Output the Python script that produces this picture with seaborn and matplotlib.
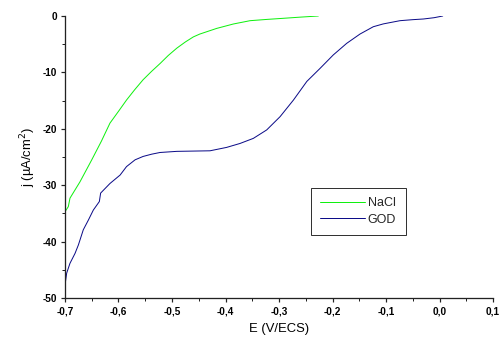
import numpy as np
import pandas as pd
import matplotlib
matplotlib.use("Agg")
import matplotlib.pyplot as plt
import matplotlib.ticker as mticker
import seaborn as sns

# NaCl curve (E in V/ECS, j in uA/cm2)
nacl_e = [-0.700, -0.6938, -0.6907, -0.672, -0.650, -0.632, -0.616, -0.600, -0.585,
          -0.570, -0.554, -0.538, -0.522, -0.507, -0.491, -0.475, -0.460, -0.448,
          -0.4165, -0.3854, -0.354, -0.322, -0.292, -0.260, -0.2265]
nacl_j = [-34.7, -33.8, -32.3, -29.4, -25.5, -22.2, -19.0, -16.9, -14.9,
          -13.1, -11.3, -9.8, -8.4, -7.0, -5.7, -4.6, -3.7, -3.2,
          -2.2, -1.42, -0.83, -0.60, -0.41, -0.20, 0.0]

# GOD curve
god_e = [-0.700, -0.6969, -0.6907, -0.6813, -0.675, -0.6658, -0.6564, -0.647,
         -0.6358, -0.6334, -0.616, -0.597, -0.585, -0.569, -0.554, -0.538,
         -0.5224, -0.491, -0.460, -0.429, -0.398, -0.3729, -0.348, -0.323,
         -0.298, -0.273, -0.248, -0.2234, -0.1985, -0.1735, -0.1486, -0.1237,
         -0.105, -0.0738, -0.050, -0.030, -0.010, 0.006]
god_j = [-47.7, -45.6, -43.85, -42.1, -40.6, -37.9, -36.2, -34.4,
         -32.9, -31.4, -29.7, -28.2, -26.7, -25.5, -24.9, -24.5,
         -24.2, -24.0, -23.95, -23.9, -23.3, -22.6, -21.7, -20.2,
         -17.85, -14.9, -11.6, -9.3, -6.9, -4.85, -3.2, -1.9,
         -1.4, -0.83, -0.65, -0.53, -0.3, 0.0]

df = pd.concat([
    pd.DataFrame({"E": nacl_e, "j": nacl_j, "serie": "NaCl"}),
    pd.DataFrame({"E": god_e, "j": god_j, "serie": "GOD"}),
])

sns.set_style("ticks")
plt.rcParams['font.family'] = ['Liberation Sans', 'DejaVu Sans']

fig = plt.figure(figsize=(7, 343 / 72), dpi=72)
ax = fig.add_axes([65 / 504, 1 - 298 / 343, 428 / 504, 282 / 343])

sns.lineplot(data=df, x="E", y="j", hue="serie", sort=False, estimator=None,
             palette={"NaCl": "#10f010", "GOD": "#0c0c88"}, linewidth=1.0, ax=ax)

ax.set_xlim(-0.7, 0.1)
ax.set_ylim(-50, 0)
ax.xaxis.set_major_locator(mticker.MultipleLocator(0.1))
ax.xaxis.set_minor_locator(mticker.MultipleLocator(0.05))
ax.yaxis.set_major_locator(mticker.MultipleLocator(10))
ax.yaxis.set_minor_locator(mticker.MultipleLocator(5))
ax.xaxis.set_major_formatter(mticker.FuncFormatter(lambda v, p: f"{v:.1f}".replace(".", ",").replace("-0,0", "0,0")))
ax.yaxis.set_major_formatter(mticker.FuncFormatter(lambda v, p: f"{v:.0f}"))

for s in ["top", "right"]:
    ax.spines[s].set_visible(False)
for s in ["left", "bottom"]:
    ax.spines[s].set_linewidth(1.3)
    ax.spines[s].set_color("#222222")
ax.tick_params(which="major", direction="out", length=4, width=1.2, color="#222222",
               labelsize=10, pad=4, labelcolor="black")
ax.tick_params(which="minor", direction="out", length=3, width=1.0, color="#222222")
for lbl in ax.get_xticklabels() + ax.get_yticklabels():
    lbl.set_fontweight("bold")

ax.set_xlabel("E (V/ECS)", fontsize=13, labelpad=7, color="black")
ax.set_ylabel("j (µA/cm$^2$)", fontsize=13, labelpad=5, color="black")

leg = ax.legend(title=None, loc="upper left", bbox_to_anchor=((311 - 65) / 428, (298 - 188) / 282),
                fontsize=12.5, frameon=True, fancybox=False, handlelength=3.6,
                borderpad=0.75, handletextpad=0.2, labelspacing=0.35, borderaxespad=0)
leg.get_frame().set_edgecolor("black")
leg.get_frame().set_linewidth(1.0)

fig.savefig("out.png", dpi=72)
